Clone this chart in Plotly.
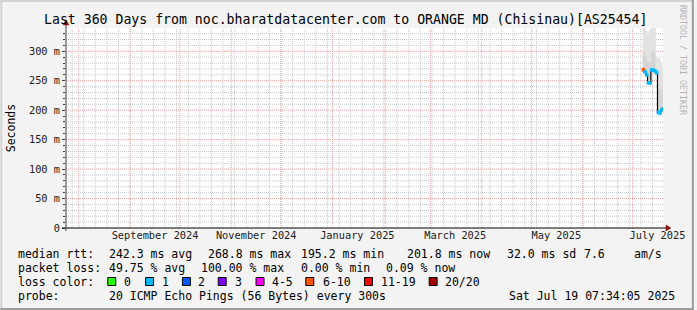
import plotly.graph_objects as go
import pandas as pd

# ---------------- data ----------------
title = "Last 360 Days from noc.bharatdatacenter.com to ORANGE MD (Chisinau)[AS25454]"
now_ts = "2025-07-19 07:34:05"
span_days = 360

days = ["2025-07-07", "2025-07-08", "2025-07-09", "2025-07-10", "2025-07-11",
        "2025-07-12", "2025-07-13", "2025-07-14", "2025-07-15", "2025-07-16",
        "2025-07-17", "2025-07-18", "2025-07-19"]
median_ms = [268.8, 265.0, 260.0, 246.5, 246.0, 268.5, 268.0, 266.5, 263.5,
             196.5, 195.2, 200.5, 201.8]
loss_bucket = ["6-10", "1", "1", "1", "1", "1", "1", "1", "1", "1", "1", "1", "1"]
smoke_lo = [264, 261, 256, 243, 242, 264, 264, 262, 259, 193, 192, 197, 198]
smoke_mid = [300, 298, 292, 282, 284, 300, 300, 298, 268, 238, 236, 240, 236]
smoke_hi = [342, 342, 334, 330, 338, 342, 342, 342, 290, 288, 287, 280, 272]

y_ticks = [0, 50, 100, 150, 200, 250, 300]
y_ticktext = ["0", "50 m", "100 m", "150 m", "200 m", "250 m", "300 m"]
x_label_months = ["2024-09", "2024-11", "2025-01", "2025-03", "2025-05", "2025-07"]
x_label_text = ["September 2024", "November 2024", "January 2025", "March 2025",
                "May 2025", "July 2025"]

loss_labels = ["0", "1", "2", "3", "4-5", "6-10", "11-19", "20/20"]
loss_colors = ["#26ff00", "#00b8ff", "#0059ff", "#7e00ff", "#ff00ff", "#ff5500",
               "#ff0000", "#a10000"]

rtt_stats = ["242.3 ms avg", "268.8 ms max", "195.2 ms min", "201.8 ms now",
             "32.0 ms sd", "7.6", "am/s"]
loss_stats = ["49.75 % avg", "100.00 % max", "0.00 % min", "0.09 % now"]
probe_text = "20 ICMP Echo Pings (56 Bytes) every 300s"
date_text = "Sat Jul 19 07:34:05 2025"

# ---------------- layout geometry ----------------
W, H = 697, 310
L, R, T, B = 66, 31, 28, 82
PW, PH = W - L - R, H - T - B
Y_MAX = 339.5
FONT = "DejaVu Sans Mono"


def px(x):
    return (x - L) / PW


def py(y):
    return (H - B - y) / PH


now = pd.Timestamp(now_ts)
start = now - pd.Timedelta(days=span_days)

d = pd.to_datetime(days)
x_step = list(d) + [now]
ext = lambda a: list(a) + [a[-1]]

fig = go.Figure()

# smoke
fig.add_trace(go.Scatter(x=x_step, y=ext(smoke_lo), mode="lines", line=dict(width=0, shape="hv"),
                         showlegend=False, hoverinfo="skip"))
fig.add_trace(go.Scatter(x=x_step, y=ext(smoke_mid), mode="lines", line=dict(width=0, shape="hv"),
                         fill="tonexty", fillcolor="#d6d6d6", showlegend=False, hoverinfo="skip"))
fig.add_trace(go.Scatter(x=x_step, y=ext(smoke_hi), mode="lines", line=dict(width=0, shape="hv"),
                         fill="tonexty", fillcolor="#e2e2e2", showlegend=False, hoverinfo="skip"))
# median line
fig.add_trace(go.Scatter(x=x_step, y=ext(median_ms), mode="lines",
                         line=dict(color="#000000", width=1.2, shape="hv"),
                         showlegend=False, hoverinfo="skip"))
# loss-colored markers
mids = []
for i, t in enumerate(d):
    end = d[i + 1] if i + 1 < len(d) else now
    mids.append(t + (end - t) / 2)
cmap = dict(zip(loss_labels, loss_colors))
fig.add_trace(go.Scatter(x=mids, y=median_ms, mode="markers",
                         marker=dict(symbol="square", size=3.5, color=[cmap[b] for b in loss_bucket],
                                     line=dict(width=0)),
                         showlegend=False, hoverinfo="skip"))

shapes = []
# weekly minor grid (Sundays)
wk = pd.date_range(start.normalize(), now, freq="W-SUN")
for t in wk:
    if start < t < now:
        shapes.append(dict(type="line", xref="x", yref="paper", x0=t, x1=t, y0=0, y1=1,
                           line=dict(color="#c8c8c8", width=1, dash="1px,1px"), layer="below"))
# horizontal minor grid
for v in range(10, int(Y_MAX) + 1, 10):
    if v % 50:
        shapes.append(dict(type="line", xref="paper", yref="y", x0=0, x1=1, y0=v, y1=v,
                           line=dict(color="#c8c8c8", width=1, dash="1px,1px"), layer="below"))
# month major grid
ms = pd.date_range(start.normalize(), now, freq="MS")
for t in ms:
    if start < t < now:
        shapes.append(dict(type="line", xref="x", yref="paper", x0=t, x1=t, y0=0, y1=1,
                           line=dict(color="#f0a0a0", width=1, dash="1px,1px"), layer="below"))
for v in y_ticks[1:]:
    shapes.append(dict(type="line", xref="paper", yref="y", x0=0, x1=1, y0=v, y1=v,
                       line=dict(color="#f0a0a0", width=1, dash="1px,1px"), layer="below"))

# axes lines with arrows
shapes.append(dict(type="line", xref="paper", yref="paper", x0=px(62), x1=px(670), y0=0, y1=0,
                   line=dict(color="#000000", width=1)))
shapes.append(dict(type="path", xref="paper", yref="paper",
                   path=f"M {px(669)} {py(225)} L {px(674)} {py(228)} L {px(669)} {py(231)} Z",
                   fillcolor="#8b1010", line=dict(color="#8b1010", width=0.5)))
shapes.append(dict(type="line", xref="paper", yref="paper", x0=0, x1=0, y0=py(231), y1=py(24),
                   line=dict(color="#404040", width=1)))
shapes.append(dict(type="path", xref="paper", yref="paper",
                   path=f"M {px(63)} {py(25)} L {px(66)} {py(20)} L {px(69)} {py(25)} Z",
                   fillcolor="#8b1010", line=dict(color="#8b1010", width=0.5)))

# frame borders
shapes.append(dict(type="rect", xref="paper", yref="paper", x0=px(0), x1=px(697), y0=py(0), y1=py(2),
                   fillcolor="#d2d2d2", line=dict(width=0)))
shapes.append(dict(type="rect", xref="paper", yref="paper", x0=px(0), x1=px(2), y0=py(0), y1=py(310),
                   fillcolor="#d2d2d2", line=dict(width=0)))
shapes.append(dict(type="rect", xref="paper", yref="paper", x0=px(695), x1=px(697), y0=py(0), y1=py(310),
                   fillcolor="#9c9c9c", line=dict(width=0)))
shapes.append(dict(type="rect", xref="paper", yref="paper", x0=px(0), x1=px(697), y0=py(308), y1=py(310),
                   fillcolor="#9c9c9c", line=dict(width=0)))

# legend boxes
box_x = [108, 146, 183, 219, 257, 307, 366, 431]
lab_x = [122, 160, 197, 234, 271, 322, 381, 445]
for bx, c in zip(box_x, loss_colors):
    shapes.append(dict(type="rect", xref="paper", yref="paper", x0=px(bx), x1=px(bx + 8),
                       y0=py(285.5), y1=py(277.5), fillcolor=c, line=dict(color="#000000", width=1)))

ann = []


def text(x, y, s, size=11.5, anchor="left", color="#000000", angle=0):
    ann.append(dict(x=px(x), y=py(y), xref="paper", yref="paper", text=s, showarrow=False,
                    xanchor=anchor, yanchor="middle", textangle=angle,
                    font=dict(family=FONT, size=size, color=color)))


text(347, 19, title, size=13.2, anchor="center")
text(11, 128, "Seconds", size=11.5, anchor="center", angle=-90)
text(686, 60, "RRDTOOL / TOBI OETIKER", size=8.3, anchor="center", color="#b4b4b4", angle=90)

text(16, 254, "median rtt:")
for x, s in zip([107, 207, 300, 407, 507, 585, 635], rtt_stats):
    text(x, 254, s)
text(16, 268, "packet loss:")
for x, s in zip([107, 200, 300, 386], loss_stats):
    text(x, 268, s)
text(16, 282, "loss color:")
for x, s in zip(lab_x, loss_labels):
    text(x, 282, s)
text(16, 296, "probe:")
text(107, 296, probe_text)
text(680, 296, date_text, anchor="right")

label_vals = [pd.Timestamp(m + "-16") for m in x_label_months]

fig.update_layout(
    width=W, height=H, margin=dict(l=L, r=R, t=T, b=B, pad=0),
    paper_bgcolor="#f3f3f3", plot_bgcolor="#ffffff",
    shapes=shapes, annotations=ann, showlegend=False,
    xaxis=dict(type="date", range=[start, now], showgrid=False, zeroline=False, showline=False,
               tickmode="array", tickvals=label_vals, ticktext=x_label_text,
               ticks="", ticklen=0,
               tickfont=dict(family=FONT, size=10.3, color="#202020"), fixedrange=True),
    yaxis=dict(range=[0, Y_MAX], showgrid=False, zeroline=False, showline=False,
               tickmode="array", tickvals=y_ticks, ticktext=y_ticktext,
               ticks="outside", ticklen=3, tickcolor="#404040",
               minor=dict(tickmode="array", tickvals=[v for v in range(10, 340, 10) if v % 50],
                          ticks="outside", ticklen=2, tickcolor="#404040", showgrid=False),
               tickfont=dict(family=FONT, size=10.3, color="#202020"), fixedrange=True),
)

fig.write_html("out.html")
